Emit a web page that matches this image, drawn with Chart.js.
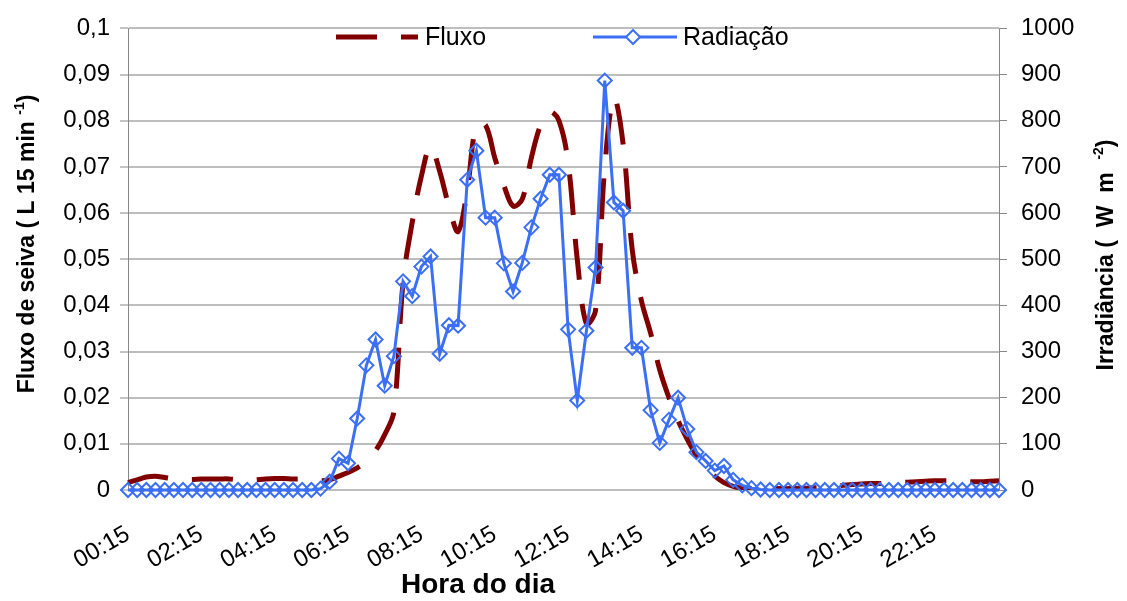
<!DOCTYPE html>
<html>
<head>
<meta charset="utf-8">
<script src="https://cdn.jsdelivr.net/npm/chart.js@4.4.0/dist/chart.umd.min.js"></script>
<style>
  html, body { margin: 0; padding: 0; background: #ffffff; }
</style>
</head>
<body>
<canvas id="grafico" width="1127" height="601"></canvas>
<script>
const horas = [
    "00:15", "00:30", "00:45", "01:00", "01:15", "01:30", "01:45", "02:00",
    "02:15", "02:30", "02:45", "03:00", "03:15", "03:30", "03:45", "04:00",
    "04:15", "04:30", "04:45", "05:00", "05:15", "05:30", "05:45", "06:00",
    "06:15", "06:30", "06:45", "07:00", "07:15", "07:30", "07:45", "08:00",
    "08:15", "08:30", "08:45", "09:00", "09:15", "09:30", "09:45", "10:00",
    "10:15", "10:30", "10:45", "11:00", "11:15", "11:30", "11:45", "12:00",
    "12:15", "12:30", "12:45", "13:00", "13:15", "13:30", "13:45", "14:00",
    "14:15", "14:30", "14:45", "15:00", "15:15", "15:30", "15:45", "16:00",
    "16:15", "16:30", "16:45", "17:00", "17:15", "17:30", "17:45", "18:00",
    "18:15", "18:30", "18:45", "19:00", "19:15", "19:30", "19:45", "20:00",
    "20:15", "20:30", "20:45", "21:00", "21:15", "21:30", "21:45", "22:00",
    "22:15", "22:30", "22:45", "23:00", "23:15", "23:30", "23:45", "24:00"
];

// Fluxo de seiva (L 15 min-1), eixo da esquerda
const fluxo = [
    0.0016, 0.0022, 0.0028, 0.003, 0.0027, 0.0024, 0.0023, 0.0023,
    0.0024, 0.0024, 0.0024, 0.0024, 0.0022, 0.002, 0.0022, 0.0024,
    0.0025, 0.0025, 0.0024, 0.0024, 0.0022, 0.002, 0.0022, 0.003,
    0.0038, 0.0048, 0.0062, 0.0085, 0.012, 0.017, 0.045, 0.058,
    0.068, 0.0745, 0.069, 0.0615, 0.056, 0.065, 0.079, 0.079,
    0.072, 0.066, 0.0615, 0.063, 0.072, 0.079, 0.082, 0.08,
    0.071, 0.05, 0.036, 0.039, 0.07, 0.085, 0.075, 0.052,
    0.041, 0.034, 0.026, 0.02, 0.015, 0.011, 0.0075, 0.0048,
    0.003, 0.0016, 0.0008, 0.0004, 0.0003, 0.0002, 0.0002, 0.0003,
    0.0003, 0.0004, 0.0004, 0.0005, 0.0006, 0.0008, 0.001, 0.0012,
    0.0013, 0.0014, 0.0014, 0.0015, 0.0016, 0.0017, 0.0018, 0.0019,
    0.002, 0.002, 0.002, 0.0019, 0.0018, 0.0018, 0.0019, 0.002
];

// Radiação (W m-2), eixo da direita
const radiacao = [
    0, 0, 0, 0, 0, 0, 0, 0,
    0, 0, 0, 0, 0, 0, 0, 0,
    0, 0, 0, 0, 0, 3, 18, 68,
    58, 155, 270, 326, 226, 290, 452, 420,
    484, 506, 295, 357, 356, 672, 735, 590,
    590, 491, 430, 492, 569, 631, 683, 683,
    348, 194, 345, 482, 887, 623, 605, 308,
    308, 173, 102, 152, 200, 132, 82, 63,
    42, 52, 22, 10, 4, 1, 0, 0,
    0, 0, 0, 0, 0, 0, 0, 0,
    0, 0, 0, 0, 0, 0, 0, 0,
    0, 0, 0, 0, 0, 0, 0, 0
];

const tituloEsq = [{ t: "Fluxo de seiva ( L 15 min " }, { t: "-1", sup: true }, { t: ")" }];
const tituloDir = [{ t: "Irradiância (  W  m  " }, { t: "-2", sup: true }, { t: ")" }];
const tituloX = "Hora do dia";

const fonte = "'Liberation Sans', Arial, sans-serif";
const corFluxo = "#800000";
const corRad = "#3b6ff5";

function larguraPartes(ctx, partes, tam) {
    let w = 0;
    partes.forEach(p => {
        ctx.font = `bold ${p.sup ? Math.round(tam * 0.62) : tam}px ${fonte}`;
        w += ctx.measureText(p.t).width;
    });
    return w;
}

function desenhaPartes(ctx, partes, tam, x0) {
    let x = x0;
    partes.forEach(p => {
        const s = p.sup ? Math.round(tam * 0.62) : tam;
        ctx.font = `bold ${s}px ${fonte}`;
        ctx.fillText(p.t, x, p.sup ? -tam * 0.42 : 0);
        x += ctx.measureText(p.t).width;
    });
}

// legenda e títulos dos eixos (como no Excel)
const legendaTitulos = {
    id: "legendaTitulos",
    afterDraw(chart) {
        const { ctx } = chart;
        const dsF = chart.data.datasets[0];
        const dsR = chart.data.datasets[1];
        ctx.save();

        // legenda - Fluxo
        ctx.strokeStyle = dsF.borderColor;
        ctx.lineWidth = dsF.borderWidth;
        ctx.setLineDash(dsF.borderDash);
        ctx.beginPath();
        ctx.moveTo(336, 37);
        ctx.lineTo(418, 37);
        ctx.stroke();
        ctx.setLineDash([]);

        ctx.fillStyle = "#000";
        ctx.font = `25px ${fonte}`;
        ctx.textBaseline = "middle";
        ctx.textAlign = "left";
        ctx.fillText(dsF.label, 425, 38);

        // legenda - Radiação
        ctx.strokeStyle = dsR.borderColor;
        ctx.lineWidth = dsR.borderWidth;
        ctx.beginPath();
        ctx.moveTo(593, 37);
        ctx.lineTo(677, 37);
        ctx.stroke();
        ctx.lineWidth = dsR.pointBorderWidth;
        ctx.fillStyle = "#fff";
        ctx.beginPath();
        ctx.moveTo(633, 30);
        ctx.lineTo(640, 37);
        ctx.lineTo(633, 44);
        ctx.lineTo(626, 37);
        ctx.closePath();
        ctx.fill();
        ctx.stroke();

        ctx.fillStyle = "#000";
        ctx.font = `25px ${fonte}`;
        ctx.fillText(dsR.label, 683, 38);

        // títulos verticais
        ctx.textBaseline = "alphabetic";
        const tam = 23;
        let w = larguraPartes(ctx, tituloEsq, tam);
        ctx.save();
        ctx.translate(34, 244);
        ctx.rotate(-Math.PI / 2);
        desenhaPartes(ctx, tituloEsq, tam, -w / 2);
        ctx.restore();

        w = larguraPartes(ctx, tituloDir, tam);
        ctx.save();
        ctx.translate(1113, 255);
        ctx.rotate(-Math.PI / 2);
        desenhaPartes(ctx, tituloDir, tam, -w / 2);
        ctx.restore();

        // título do eixo x
        ctx.font = `bold 28px ${fonte}`;
        ctx.textAlign = "center";
        ctx.textBaseline = "middle";
        ctx.fillText(tituloX, 478, 585);

        ctx.restore();
    }
};

Chart.defaults.font.family = fonte;
Chart.defaults.color = "#000000";

const ctx = document.getElementById("grafico");

new Chart(ctx, {
    type: "line",
    data: {
        labels: horas,
        datasets: [{
            label: "Fluxo",
            data: fluxo,
            yAxisID: "y",
            borderColor: corFluxo,
            borderWidth: 5,
            borderDash: [41, 24],
            tension: 0.35,
            pointRadius: 0,
            fill: false,
            order: 1
        },
        {
            label: "Radiação",
            data: radiacao,
            yAxisID: "y1",
            borderColor: corRad,
            borderWidth: 3,
            tension: 0,
            pointStyle: "rectRot",
            pointRadius: 7,
            pointBorderWidth: 2,
            pointBorderColor: corRad,
            pointBackgroundColor: "rgba(0,0,0,0)",
            fill: false,
            clip: 12,
            order: 0
        }]
    },
    options: {
        responsive: false,
        animation: false,
        devicePixelRatio: 1,
        layout: { padding: { top: 20, left: 0, right: 0, bottom: 0 } },
        plugins: {
            legend: { display: false },
            tooltip: { enabled: false }
        },
        scales: {
            x: {
                type: "category",
                offset: false,
                grid: { display: false, drawTicks: false },
                border: { display: false },
                ticks: {
                    autoSkip: false,
                    minRotation: 30,
                    maxRotation: 30,
                    padding: 30,
                    font: { size: 24 },
                    callback: function (value, index) {
                        return index % 8 === 0 ? this.getLabelForValue(value) : "";
                    }
                },
                afterFit: (scale) => { scale.height = 111; }
            },
            y: {  // fluxo de seiva
                type: "linear",
                position: "left",
                min: 0,
                max: 0.1,
                grid: { color: "#bdbdbd", lineWidth: 2, tickColor: "#888888", tickWidth: 1, tickLength: 8 },
                border: { color: "#888888", width: 1 },
                ticks: {
                    stepSize: 0.01,
                    padding: 10,
                    font: { size: 24 },
                    callback: (v) => Number(v.toFixed(2)).toString().replace(".", ",")
                },
                afterFit: (scale) => { scale.width = 128; }
            },
            y1: { // irradiância
                type: "linear",
                position: "right",
                min: 0,
                max: 1000,
                grid: { drawOnChartArea: false, tickColor: "#888888", tickWidth: 1, tickLength: 8 },
                border: { color: "#888888", width: 1 },
                ticks: {
                    stepSize: 100,
                    padding: 14,
                    font: { size: 24 },
                    callback: (v) => String(v)
                },
                afterFit: (scale) => { scale.width = 128; }
            }
        }
    },
    plugins: [legendaTitulos]
});
</script>
</body>
</html>
